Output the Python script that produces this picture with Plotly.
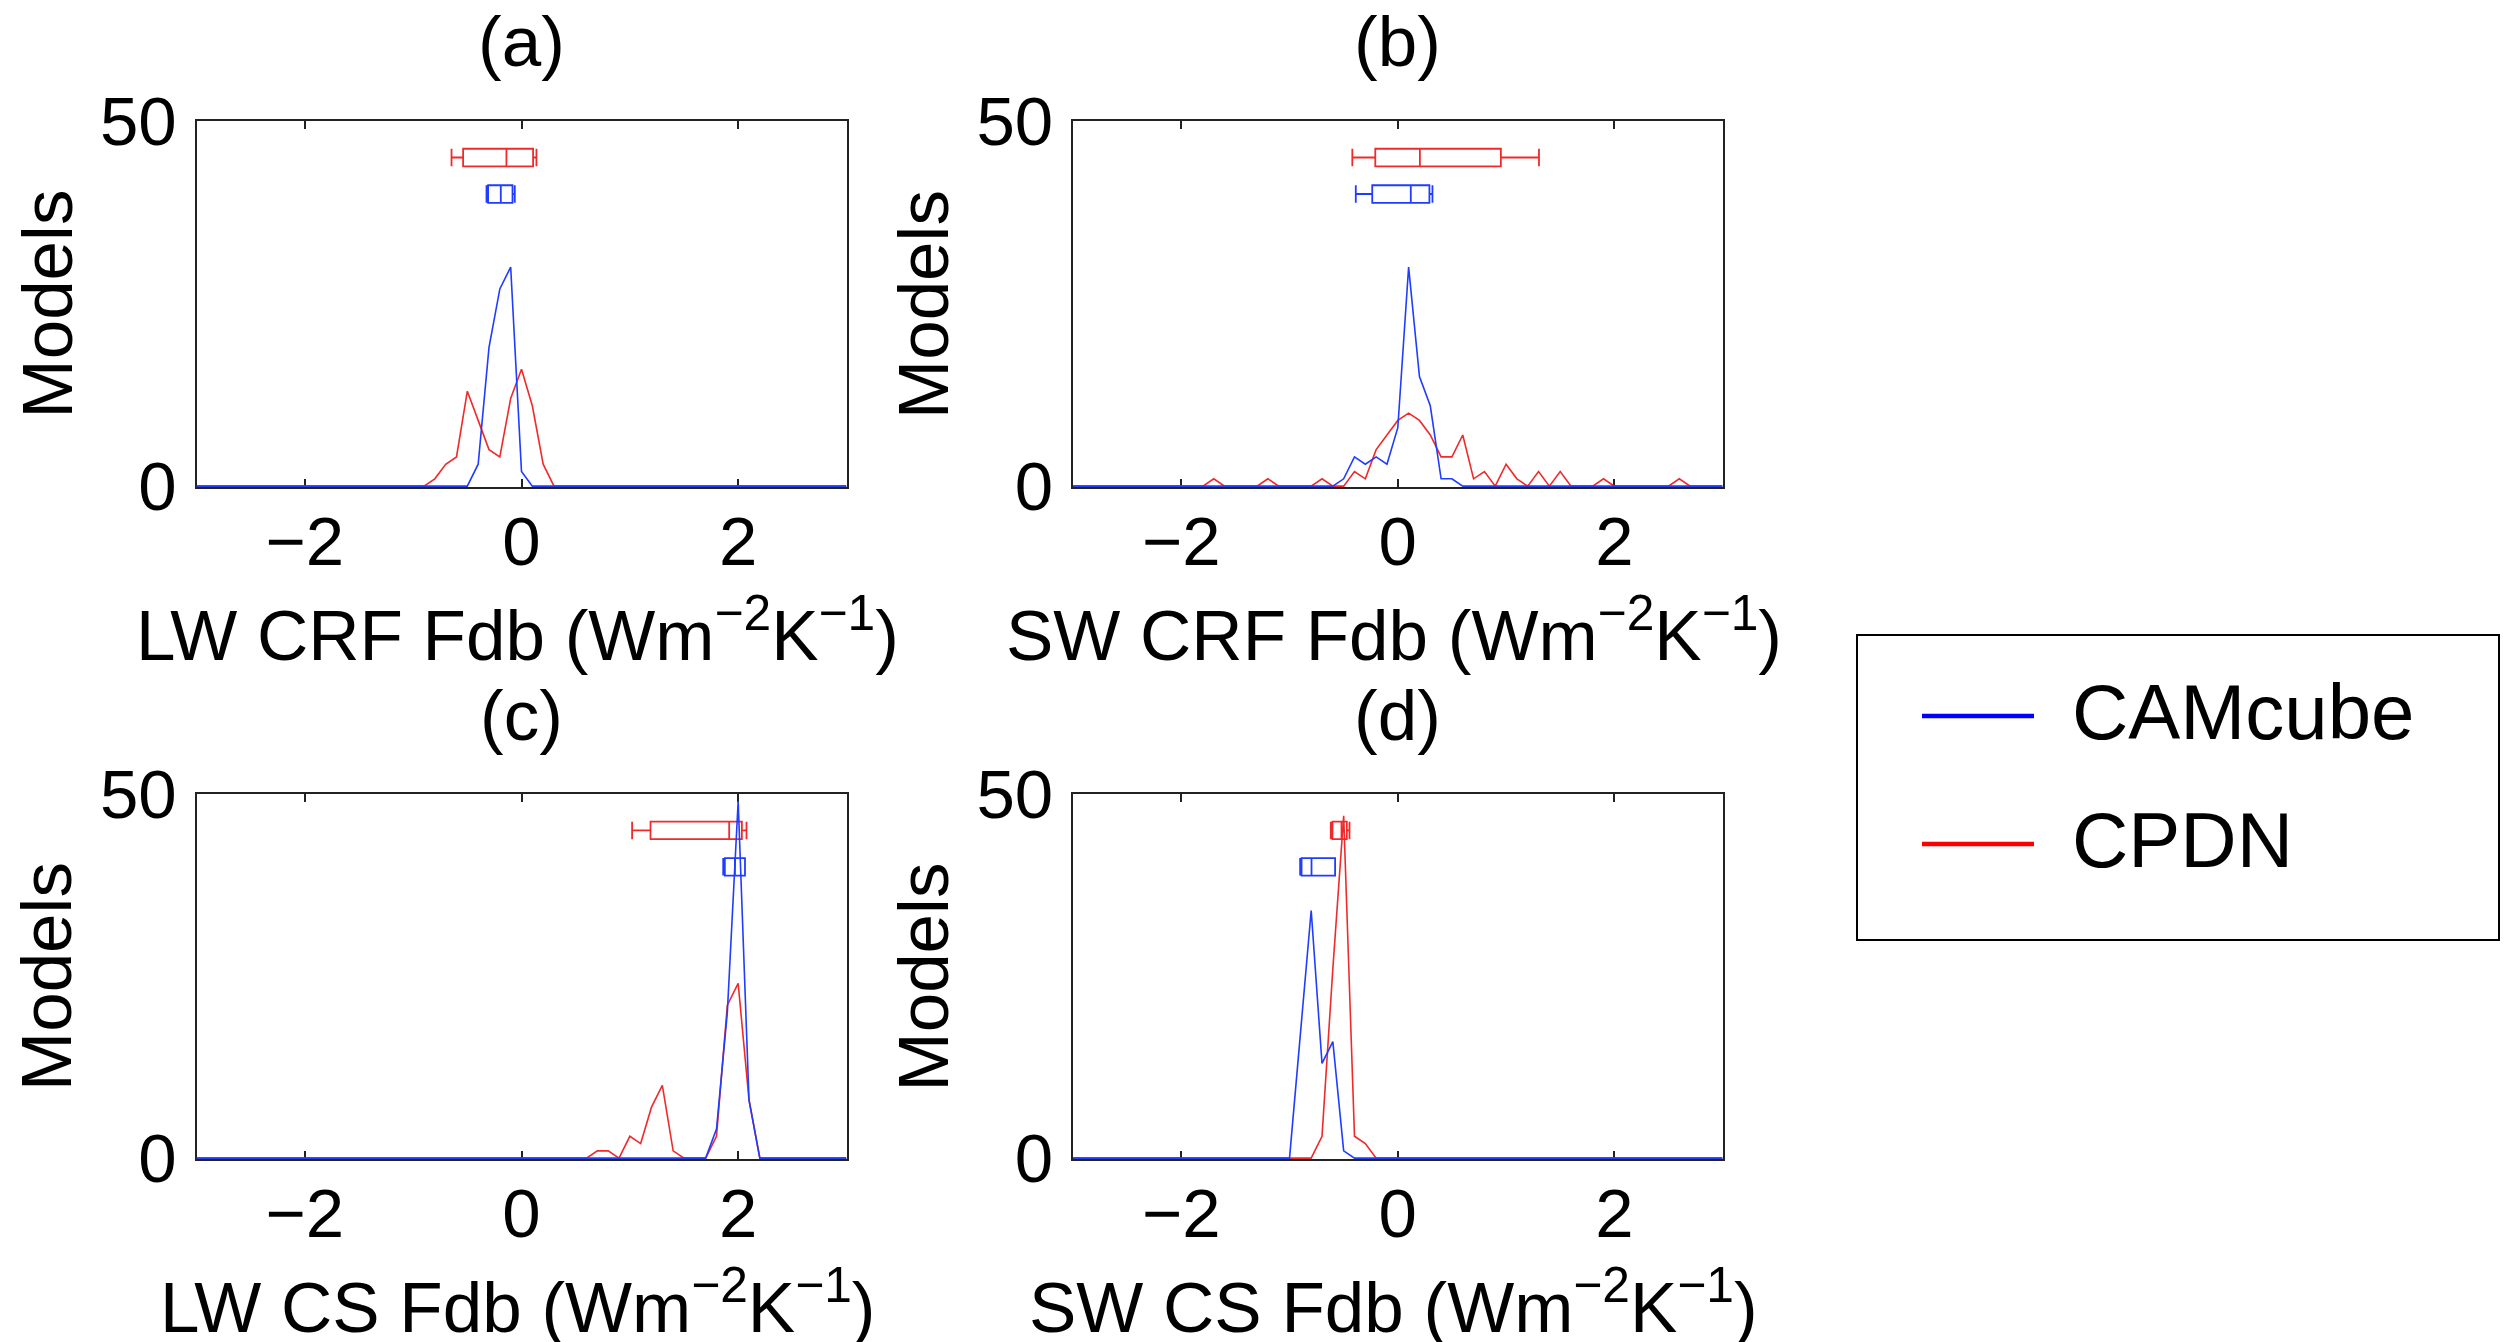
import plotly.graph_objects as go

W, H = 2509, 1342
FONT = "Liberation Sans, Arial, Helvetica, sans-serif"
BLUE = "#1f3cff"
RED = "#f02a2a"

# Histogram counts (models per 0.1 W m-2 K-1 bin); empty bins lie on the baseline
a_cam_x = [-3.0, -0.5, -0.4, -0.3, -0.2, -0.1, 0.0, 0.1, 3.0]
a_cam_n = [0, 0, 3, 19, 27, 30, 2, 0, 0]
a_cpdn_x = [-3.0, -0.9, -0.8, -0.7, -0.6, -0.5, -0.4, -0.3, -0.2, -0.1, 0.0, 0.1, 0.2, 0.3, 3.0]
a_cpdn_n = [0, 0, 1, 3, 4, 13, 9, 5, 4, 12, 16, 11, 3, 0, 0]

b_cam_x = [-3.0, -0.6, -0.5, -0.4, -0.3, -0.2, -0.1, 0.0, 0.1, 0.2, 0.3, 0.4, 0.5, 0.6, 3.0]
b_cam_n = [0, 0, 1, 4, 3, 4, 3, 8, 30, 15, 11, 1, 1, 0, 0]
b_cpdn_x = [-3.0, -1.8, -1.7, -1.6, -1.3, -1.2, -1.1, -0.8, -0.7, -0.6, -0.5, -0.4, -0.3,
            -0.2, -0.1, 0.0, 0.1, 0.2, 0.3, 0.4, 0.5, 0.6, 0.7, 0.8, 0.9, 1.0, 1.1, 1.2,
            1.3, 1.4, 1.5, 1.6, 1.8, 1.9, 2.0, 2.5, 2.6, 2.7, 3.0]
b_cpdn_n = [0, 0, 1, 0, 0, 1, 0, 0, 1, 0, 0, 2, 1,
            5, 7, 9, 10, 9, 7, 4, 4, 7, 1, 2, 0, 3, 1, 0,
            2, 0, 2, 0, 0, 1, 0, 0, 1, 0, 0]

c_cam_x = [-3.0, 1.7, 1.8, 1.9, 2.0, 2.1, 2.2, 3.0]
c_cam_n = [0, 0, 4, 20, 49, 8, 0, 0]
c_cpdn_x = [-3.0, 0.6, 0.7, 0.8, 0.9, 1.0, 1.1, 1.2, 1.3, 1.4, 1.5, 1.7, 1.8, 1.9, 2.0, 2.1, 2.2, 3.0]
c_cpdn_n = [0, 0, 1, 1, 0, 3, 2, 7, 10, 1, 0, 0, 3, 21, 24, 8, 0, 0]

d_cam_x = [-3.0, -1.0, -0.9, -0.8, -0.7, -0.6, -0.5, -0.4, 3.0]
d_cam_n = [0, 0, 17, 34, 13, 16, 1, 0, 0]
d_cpdn_x = [-3.0, -0.8, -0.7, -0.6, -0.5, -0.4, -0.3, -0.2, 3.0]
d_cpdn_n = [0, 0, 3, 26, 47, 3, 2, 0, 0]

# Box summaries: [lower whisker, q1, median, q3, upper whisker]
a_cam_box = [-0.323, -0.308, -0.191, -0.083, -0.062]
a_cpdn_box = [-0.646, -0.539, -0.139, 0.107, 0.138]
b_cam_box = [-0.388, -0.236, 0.120, 0.292, 0.320]
b_cpdn_box = [-0.420, -0.208, 0.204, 0.952, 1.304]
c_cam_box = [1.862, 1.877, 1.970, 2.063, 2.063]
c_cpdn_box = [1.021, 1.191, 1.917, 2.034, 2.077]
d_cam_box = [-0.902, -0.889, -0.797, -0.579, -0.579]
d_cpdn_box = [-0.619, -0.603, -0.520, -0.471, -0.446]

CAM_BOX_Y = 40
CPDN_BOX_Y = 45

panel_tags = ["(a)", "(b)", "(c)", "(d)"]
x_titles = [
    "LW CRF Fdb (Wm<sup>\u22122</sup>K<sup>\u22121</sup>)",
    "SW CRF Fdb (Wm<sup>\u22122</sup>K<sup>\u22121</sup>)",
    "LW CS Fdb (Wm<sup>\u22122</sup>K<sup>\u22121</sup>)",
    "SW CS Fdb (Wm<sup>\u22122</sup>K<sup>\u22121</sup>)",
]
y_title = "Models"
x_ticks = [-2, 0, 2]
y_ticks = [0, 50]
series_names = ["CAMcube", "CPDN"]

panels = [
    (a_cam_x, a_cam_n, a_cpdn_x, a_cpdn_n, a_cam_box, a_cpdn_box),
    (b_cam_x, b_cam_n, b_cpdn_x, b_cpdn_n, b_cam_box, b_cpdn_box),
    (c_cam_x, c_cam_n, c_cpdn_x, c_cpdn_n, c_cam_box, c_cpdn_box),
    (d_cam_x, d_cam_n, d_cpdn_x, d_cpdn_n, d_cam_box, d_cpdn_box),
]

# Axes rectangles in pixels: (left, right, top, bottom)
cols = [(196.5, 846.5), (1073.0, 1722.6)]
rows = [(121.0, 487.0), (794.0, 1159.0)]


def px(x):
    return x / W


def py(y):
    return 1 - y / H


fig = go.Figure()
annotations = []
shapes = []

for i, (cx, cn, px_, pn, cbox, pbox) in enumerate(panels):
    r, c = divmod(i, 2)
    left, right = cols[c]
    top, bottom = rows[r]
    sfx = "" if i == 0 else str(i + 1)
    xa, ya = "x" + sfx, "y" + sfx

    axis_common = dict(
        showline=True, mirror="ticks", linecolor="#222222", linewidth=2,
        ticks="inside", ticklen=8, tickwidth=1.5, tickcolor="#222222",
        showgrid=False, zeroline=False, layer="below traces", automargin=False,
        tickfont=dict(family=FONT, size=69, color="black"),
    )
    fig.update_layout(**{
        "xaxis" + sfx: dict(axis_common, domain=[px(left), px(right)], range=[-3, 3],
                            tickvals=x_ticks, anchor=ya, ticklabelstandoff=-7),
        "yaxis" + sfx: dict(axis_common, domain=[py(bottom), py(top)], range=[-0.12, 50],
                            tickvals=y_ticks, anchor=xa, ticklabelstandoff=4),
    })

    # CPDN curve first, CAMcube on top
    fig.add_trace(go.Scatter(x=px_, y=pn, mode="lines", line=dict(color=RED, width=1.6),
                             xaxis=xa, yaxis=ya, showlegend=False, hoverinfo="skip"))
    fig.add_trace(go.Scatter(x=cx, y=cn, mode="lines", line=dict(color=BLUE, width=1.6),
                             xaxis=xa, yaxis=ya, showlegend=False, hoverinfo="skip"))

    for stats, pos, col in ((pbox, CPDN_BOX_Y, RED), (cbox, CAM_BOX_Y, BLUE)):
        fig.add_trace(go.Box(
            orientation="h", y=[pos],
            lowerfence=[stats[0]], q1=[stats[1]], median=[stats[2]],
            q3=[stats[3]], upperfence=[stats[4]],
            width=2.4, whiskerwidth=1, boxpoints=False,
            line=dict(color=col, width=1.8), fillcolor="rgba(0,0,0,0)",
            xaxis=xa, yaxis=ya, showlegend=False, hoverinfo="skip"))

    cxm = (left + right) / 2
    annotations.append(dict(text=panel_tags[i], x=px(cxm), y=py(top - 79), xref="paper", yref="paper",
                            xanchor="center", yanchor="middle", showarrow=False,
                            font=dict(family=FONT, size=71, color="black")))
    annotations.append(dict(text=x_titles[i], x=px(cxm - 4), y=py(bottom + 143), xref="paper", yref="paper",
                            xanchor="center", yanchor="middle", showarrow=False,
                            font=dict(family=FONT, size=71, color="black")))
    annotations.append(dict(text=y_title, x=px(left - 150), y=py((top + bottom) / 2), xref="paper", yref="paper",
                            xanchor="center", yanchor="middle", textangle=-90, showarrow=False,
                            font=dict(family=FONT, size=71, color="black")))

# Legend box
shapes.append(dict(type="rect", xref="paper", yref="paper", x0=px(1857), x1=px(2499), y0=py(940), y1=py(635),
                   line=dict(color="black", width=2), fillcolor="white", layer="below"))
for name, col, ly in ((series_names[0], "#0000ff", 716), (series_names[1], "#ff0000", 844)):
    shapes.append(dict(type="line", xref="paper", yref="paper", x0=px(1922), x1=px(2034), y0=py(ly), y1=py(ly),
                       line=dict(color=col, width=4.5)))
    annotations.append(dict(text=name, x=px(2070), y=py(ly - 4), xref="paper", yref="paper",
                            xanchor="left", yanchor="middle", showarrow=False,
                            font=dict(family=FONT, size=78, color="black")))

fig.update_layout(
    width=W, height=H, margin=dict(l=0, r=0, t=0, b=0, autoexpand=False),
    paper_bgcolor="white", plot_bgcolor="white",
    boxmode="overlay", showlegend=False,
    annotations=annotations, shapes=shapes,
)

fig.write_html("out.html")
